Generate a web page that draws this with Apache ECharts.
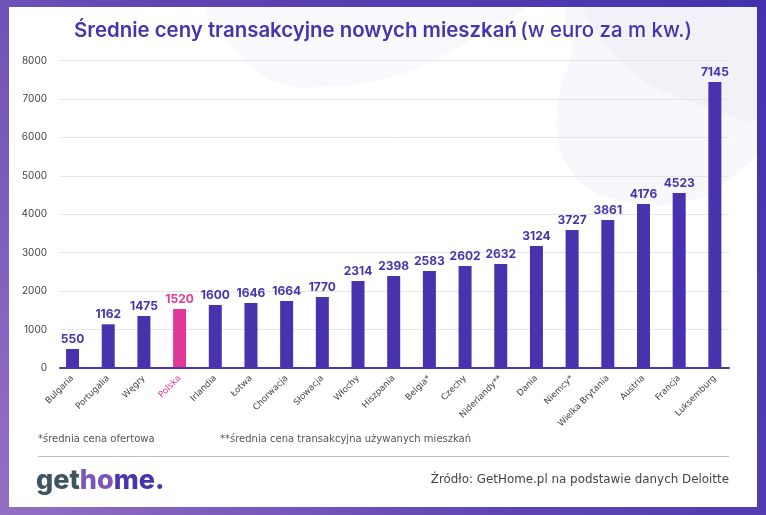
<!DOCTYPE html>
<html><head><meta charset="utf-8">
<style>html,body{margin:0;padding:0;background:#fff}#c{width:766px;height:515px}</style>
<script src="https://cdn.jsdelivr.net/npm/echarts@6/dist/echarts.min.js"></script>
</head><body><div id="c"></div>
<script>
const categories=['Bulgaria','Portugalia','Węgry','Polska','Irlandia','Łotwa','Chorwacja','Słowacja','Włochy','Hiszpania','Belgia*','Czechy','Niderlandy**','Dania','Niemcy*','Wielka Brytania','Austria','Francja','Luksemburg'];
const printedValues=[550,1162,1475,1520,1600,1646,1664,1770,2314,2398,2583,2602,2632,3124,3727,3861,4176,4523,7145];
const barHeights=[494,1137,1353,1535,1639,1691,1743,1847,2263,2393,2523,2653,2705,3174,3590,3850,4266,4552,7440];
const highlight='Polska';
const titleMain='Średnie ceny transakcyjne nowych mieszkań';
const titleUnit='(w euro za m kw.)';
const note1='*średnia cena ofertowa';
const note2='**średnia cena transakcyjna używanych mieszkań';
const sourceText='Źródło: GetHome.pl na podstawie danych Deloitte';

const PURPLE='#4832ae',PINK='#e2389a',FONT='Inter, "Noto Sans", sans-serif',WIDE='"DejaVu Sans", Inter, sans-serif';
const frameFill=()=>new echarts.graphic.LinearGradient(0,515,766,0,[{offset:0,color:'#9470c4'},{offset:.45,color:'#5f45b2'},{offset:1,color:'#4331ad'}],true);
const chart=echarts.init(document.getElementById('c'),null,{renderer:'canvas'});
chart.setOption({
 animation:false,
 backgroundColor:'#fff',
 graphic:[
  {type:'polygon',z:-8,shape:{smooth:0.4,points:[[210,7],[235,50],[275,82],[322,87],[380,80],[430,62],[480,34],[520,7]]},style:{fill:'#f9f8fc'}},
  {type:'polygon',z:-8,shape:{smooth:0.3,points:[[568,7],[572,50],[558,100],[560,150],[590,190],[650,205],[700,198],[735,175],[757,150],[757,7]]},style:{fill:'#f8f7fb'}},
  {type:'polygon',z:-8,shape:{smooth:0.2,points:[[585,7],[610,50],[650,85],[700,105],[757,120],[757,7]]},style:{fill:'#f2f1f8'}},
  {type:'rect',z:-7,shape:{x:0,y:0,width:766,height:7},style:{fill:frameFill()}},
  {type:'rect',z:-7,shape:{x:0,y:507,width:766,height:8},style:{fill:frameFill()}},
  {type:'rect',z:-7,shape:{x:0,y:0,width:9,height:515},style:{fill:frameFill()}},
  {type:'rect',z:-7,shape:{x:757,y:0,width:9,height:515},style:{fill:frameFill()}},
  {type:'text',z:5,style:{x:383,y:31,align:'center',verticalAlign:'middle',text:'{a|'+titleMain+'} {b|'+titleUnit+'}',rich:{
    a:{font:'600 20.4px '+FONT,fill:PURPLE},b:{font:'500 20.4px '+FONT,fill:PURPLE}}}},
  {type:'text',z:5,style:{x:38,y:439,text:note1,verticalAlign:'middle',font:'400 10px '+WIDE,fill:'#555'}},
  {type:'text',z:5,style:{x:220,y:439,text:note2,verticalAlign:'middle',font:'400 10px '+WIDE,fill:'#555'}},
  {type:'line',z:5,shape:{x1:38,y1:456.5,x2:729,y2:456.5},style:{stroke:'#bdbdbd',lineWidth:1}},
  {type:'text',z:5,style:{x:729,y:480,text:sourceText,align:'right',verticalAlign:'middle',font:'400 11.9px '+WIDE,fill:'#444'}},
  {type:'text',z:5,style:{x:36,y:481,verticalAlign:'middle',text:'{a|get}{b|ho}{c|me.}',rich:{
    a:{font:'800 27px '+FONT,fill:'#3f5463'},b:{font:'800 27px '+FONT,fill:'#7d55b9'},c:{font:'800 27px '+FONT,fill:'#4a34ae'}}}}
 ],
 grid:[
  {left:60,right:37,top:60.5,height:307.5},
  {left:54.7,width:678,top:60.5,height:307.5}
 ],
 xAxis:[
  {type:'category',gridIndex:0,data:categories,axisTick:{show:false},axisLabel:{show:false},
   axisLine:{lineStyle:{color:'#4b36ae',width:2}},z:6},
  {type:'category',gridIndex:1,data:categories,axisTick:{show:false},axisLine:{show:false},
   axisLabel:{interval:0,rotate:45,margin:9,fontFamily:WIDE,fontSize:8.7,
    color:v=>v===highlight?PINK:'#444'}}
 ],
 yAxis:[
  {type:'value',gridIndex:0,min:0,max:8000,interval:1000,axisLine:{show:false},axisTick:{show:false},
   axisLabel:{margin:13,fontFamily:FONT,fontSize:10,color:'#444',formatter:v=>String(v)},
   splitLine:{lineStyle:{color:'#e6e6ea',width:1}}},
  {type:'value',gridIndex:1,min:0,max:8000,interval:1000,axisLine:{show:false},axisTick:{show:false},axisLabel:{show:false},splitLine:{show:false}}
 ],
 series:[{
  type:'bar',xAxisIndex:1,yAxisIndex:1,barWidth:13,z:3,
  data:barHeights.map((v,i)=>({value:v,itemStyle:{color:categories[i]===highlight?PINK:PURPLE},
    label:{color:categories[i]===highlight?PINK:PURPLE}})),
  label:{show:true,position:'top',distance:4,fontFamily:FONT,fontSize:12,fontWeight:700,
    formatter:p=>String(printedValues[p.dataIndex])}
 }]
});
</script></body></html>
